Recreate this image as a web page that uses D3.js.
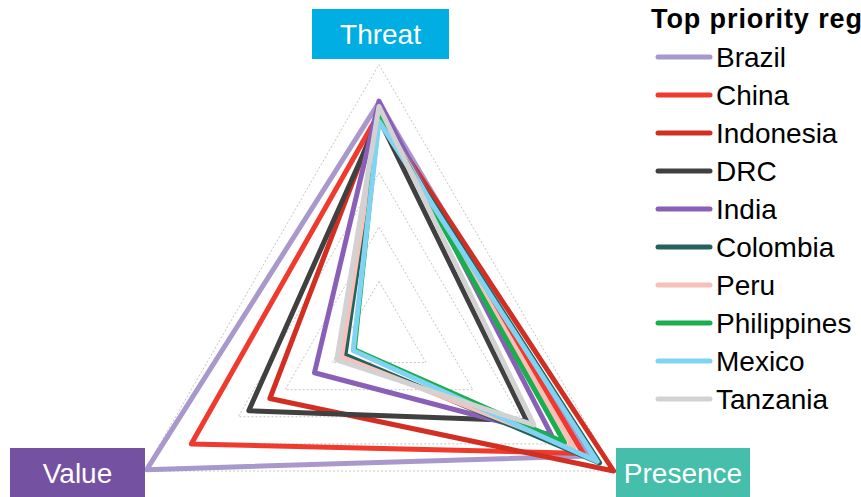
<!DOCTYPE html>
<html>
<head>
  <meta http-equiv="Content-Type" content="text/html; charset=UTF-8">
  <style>
    body { margin: 0; background: #fff; overflow: hidden; }
    svg { font-family: "Liberation Sans", Arial, sans-serif; }
    .grid { fill: none; stroke: #c4c4c4; stroke-width: 1px; stroke-dasharray: 2,2; }
    .series { fill: none; stroke-width: 5px; stroke-linejoin: round; }
    .axis-label { fill: #fff; font-size: 28px; text-anchor: middle; }
    .legend-text { font-size: 28px; fill: #000; }
    .legend-title { font-size: 27px; font-weight: bold; fill: #000; letter-spacing: 0.9px; }
  </style>
</head>
<body>
  <svg width="861" height="497"></svg>
  <script src="https://cdn.jsdelivr.net/npm/d3@7"></script>
  <script>
    // axes in drawing order: top, bottom-right, bottom-left
    var axes = ["Threat", "Presence", "Value"];
    var axisColors = ["#00aee4", "#45bfab", "#7552a1"];
    var countries = ["Brazil", "China", "Indonesia", "DRC", "India", "Colombia", "Peru", "Philippines", "Mexico", "Tanzania"];
    var colors = ["#a898cc", "#f03a2e", "#d22e22", "#404040", "#8a5fb8", "#24615f", "#f8c0b8", "#1aae4e", "#80d3f3", "#d2d2d2"];
    // scores, 0..1, per axis
    var threat   = [0.86, 0.82, 0.82, 0.80, 0.865, 0.80, 0.82, 0.82, 0.79, 0.845];
    var presence = [0.89, 0.87, 1.00, 0.63, 0.735, 0.94, 0.83, 0.79, 0.93, 0.66];
    var value    = [0.99, 0.80, 0.465, 0.555, 0.275, 0.145, 0.16, 0.105, 0.11, 0.18];
    var gridLevels = [0.2, 0.4, 0.6, 0.8, 1.0];

    var svg = d3.select("svg"),
        cx = 379, cy = 335.5, R = 271;

    var r = d3.scaleLinear().domain([0, 1]).range([0, R]);
    var angle = d3.scalePoint().domain(axes).range([0, 2 * Math.PI * 2 / 3]);

    var radar = d3.lineRadial()
        .angle(function(d) { return angle(d.axis); })
        .radius(function(d) { return r(d.v); })
        .curve(d3.curveLinearClosed);

    var g = svg.append("g").attr("transform", "translate(" + cx + "," + cy + ")");

    g.selectAll(".grid")
      .data(gridLevels)
      .enter().append("path")
        .attr("class", "grid")
        .attr("d", function(l) { return radar(axes.map(function(a) { return {axis: a, v: l}; })); });

    var rows = countries.map(function(c, i) {
      return [
        {axis: "Threat", v: threat[i]},
        {axis: "Presence", v: presence[i]},
        {axis: "Value", v: value[i]}
      ];
    });

    g.selectAll(".series")
      .data(rows)
      .enter().append("path")
        .attr("class", "series")
        .attr("stroke", function(d, i) { return colors[i]; })
        .attr("d", radar);

    // axis label boxes
    var boxes = [
      {x: 312, y: 9, w: 137, h: 50},
      {x: 616, y: 448, w: 134, h: 50},
      {x: 10, y: 448, w: 135, h: 50}
    ];
    var lab = svg.selectAll(".axis-box")
      .data(axes)
      .enter().append("g")
        .attr("class", "axis-box");
    lab.append("rect")
        .attr("x", function(d, i) { return boxes[i].x; })
        .attr("y", function(d, i) { return boxes[i].y; })
        .attr("width", function(d, i) { return boxes[i].w; })
        .attr("height", function(d, i) { return boxes[i].h; })
        .attr("fill", function(d, i) { return axisColors[i]; });
    lab.append("text")
        .attr("class", "axis-label")
        .attr("x", function(d, i) { return boxes[i].x + boxes[i].w / 2; })
        .attr("y", function(d, i) { return boxes[i].y + boxes[i].h / 2 + 10; })
        .text(function(d) { return d; });

    // legend (title runs off the right edge, as in the source)
    var legend = svg.append("g").attr("transform", "translate(651,0)");
    legend.append("text")
        .attr("class", "legend-title")
        .attr("x", 0)
        .attr("y", 28)
        .text("Top priority regions");

    var ly = d3.scaleLinear().domain([0, 1]).range([57, 95]);
    var item = legend.selectAll(".item")
      .data(countries)
      .enter().append("g")
        .attr("class", "item")
        .attr("transform", function(d, i) { return "translate(0," + ly(i) + ")"; });
    item.append("line")
        .attr("x1", 7).attr("x2", 59)
        .attr("stroke", function(d, i) { return colors[i]; })
        .attr("stroke-width", 5)
        .attr("stroke-linecap", "round");
    item.append("text")
        .attr("class", "legend-text")
        .attr("x", 65)
        .attr("y", 9.5)
        .text(function(d) { return d; });
  </script>
</body>
</html>
